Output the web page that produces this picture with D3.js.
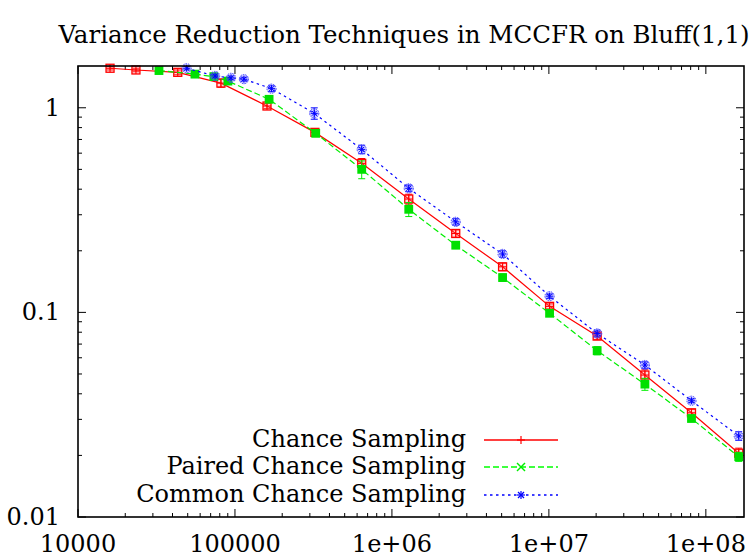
<!DOCTYPE html>
<html>
<head>
<meta charset="utf-8">
<script src="https://cdn.jsdelivr.net/npm/d3@7"></script>
<style>
  html, body { margin: 0; padding: 0; background: #fff; }
  svg { display: block; }
</style>
</head>
<body>
<svg id="chart" width="752" height="557"></svg>
<script>
// ---------------- data ----------------
const title = "Variance Reduction Techniques in MCCFR on Bluff(1,1)";
const seriesNames = ["Chance Sampling", "Paired Chance Sampling", "Common Chance Sampling"];

const chanceX   = [16000, 23400, 43200, 81400, 160000, 323000, 642000, 1280000, 2550000, 5070000, 10100000, 20300000, 40900000, 81000000, 162000000];
const chanceY   = [1.56, 1.53, 1.49, 1.32, 1.02, 0.758, 0.535, 0.358, 0.243, 0.167, 0.107, 0.0766, 0.0494, 0.0323, 0.0205];
const chanceErr = [0.03, 0.03, 0.04, 0.06, 0.03, 0.025, 0.03, 0.02, 0.01, 0.007, 0.003, 0.003, 0.003, 0.0013, 0.0012];

const pairedX   = [32800, 55600, 73400, 90200, 165000, 327000, 642000, 1280000, 2550000, 5070000, 10100000, 20300000, 40900000, 81000000, 162000000];
const pairedY   = [1.52, 1.46, 1.42, 1.35, 1.10, 0.750, 0.500, 0.319, 0.213, 0.148, 0.099, 0.065, 0.0446, 0.0303, 0.0197];
const pairedErr = [0.02, 0.02, 0.02, 0.03, 0.03, 0.02, 0.05, 0.025, 0.008, 0.006, 0.003, 0.003, 0.003, 0.001, 0.001];

const commonX   = [49200, 74700, 94400, 114000, 171000, 320000, 642000, 1280000, 2550000, 5070000, 10100000, 20300000, 40900000, 81000000, 162000000];
const commonY   = [1.56, 1.43, 1.40, 1.38, 1.24, 0.939, 0.626, 0.404, 0.277, 0.193, 0.120, 0.0789, 0.0553, 0.037, 0.0249];
const commonErr = [0.03, 0.03, 0.03, 0.03, 0.04, 0.06, 0.03, 0.015, 0.01, 0.007, 0.003, 0.003, 0.002, 0.0008, 0.0012];

const xTickValues = [1e4, 1e5, 1e6, 1e7, 1e8];
const xTickLabels = ["10000", "100000", "1e+06", "1e+07", "1e+08"];
const yTickValues = [0.01, 0.1, 1];
const yTickLabels = ["0.01", "0.1", "1"];

// ---------------- layout ----------------
const W = 752, H = 557;
const L = 78, R = 744, T = 66, B = 517;
const FS = 24;
const FONT = "DejaVu Serif";

const x = d3.scaleLog().domain([1e4, 1.75e8]).range([L, R]);
const y = d3.scaleLog().domain([0.01, 1.6]).range([B, T]);

const svg = d3.select("#chart");
svg.append("rect").attr("width", W).attr("height", H).attr("fill", "#fff");

function txt(g, s, xx, yy, anchor, size) {
  return g.append("text").attr("x", xx).attr("y", yy).attr("text-anchor", anchor)
    .attr("font-size", size || FS).attr("font-family", FONT).attr("fill", "#000").text(s);
}

// title
txt(svg, title, 404, 43, "middle", 24.5);

// ---------------- ticks ----------------
const gAx = svg.append("g").attr("stroke", "#000").attr("stroke-width", 1);
const minorX = [], minorY = [];
for (let e = 4; e <= 8; e++) for (let m = 2; m <= 9; m++) { const v = m * Math.pow(10, e); if (v < 1.75e8) minorX.push(v); }
for (let e = -2; e <= 0; e++) for (let m = 2; m <= 9; m++) { const v = m * Math.pow(10, e); if (v < 1.6) minorY.push(v); }

function xt(vals, len) {
  vals.forEach(v => {
    const px = x(v);
    gAx.append("line").attr("x1", px).attr("x2", px).attr("y1", B).attr("y2", B - len);
    gAx.append("line").attr("x1", px).attr("x2", px).attr("y1", T).attr("y2", T + len);
  });
}
function yt(vals, len) {
  vals.forEach(v => {
    const py = y(v);
    gAx.append("line").attr("x1", L).attr("x2", L + len).attr("y1", py).attr("y2", py);
    gAx.append("line").attr("x1", R).attr("x2", R - len).attr("y1", py).attr("y2", py);
  });
}
xt(xTickValues, 8); xt(minorX, 4);
yt(yTickValues, 8); yt(minorY, 4);

xTickValues.forEach((v, i) => txt(svg, xTickLabels[i], x(v), 552, "middle"));
yTickValues.forEach((v, i) => txt(svg, yTickLabels[i], 60, y(v), "end").attr("dy", "0.33em"));

// ---------------- series ----------------
const plot = svg.append("g");
const series = [
  { name: seriesNames[0], xs: chanceX, ys: chanceY, es: chanceErr, color: "#ff0000", dash: null, kind: "red" },
  { name: seriesNames[1], xs: pairedX, ys: pairedY, es: pairedErr, color: "#00ee00", dash: "6,3", kind: "green" },
  { name: seriesNames[2], xs: commonX, ys: commonY, es: commonErr, color: "#0000ff", dash: "2.5,3.5", kind: "blue" }
];

const line = d3.line().x(d => x(d[0])).y(d => y(d[1]));

function drawMarker(g, kind, cx, cy, color) {
  if (kind === "red") {
    const s = 4;
    g.append("rect").attr("x", cx - s).attr("y", cy - s).attr("width", 2 * s).attr("height", 2 * s)
      .attr("fill", "rgba(255,120,120,0.25)").attr("stroke", color).attr("stroke-width", 1.3);
    g.append("line").attr("x1", cx - s).attr("x2", cx + s).attr("y1", cy).attr("y2", cy).attr("stroke", color).attr("stroke-width", 1.1);
    g.append("line").attr("x1", cx).attr("x2", cx).attr("y1", cy - s).attr("y2", cy + s).attr("stroke", color).attr("stroke-width", 1.1);
  } else if (kind === "green") {
    const s = 4.4;
    g.append("rect").attr("x", cx - s).attr("y", cy - s).attr("width", 2 * s).attr("height", 2 * s)
      .attr("fill", "#00e000");
  } else {
    g.append("circle").attr("cx", cx).attr("cy", cy).attr("r", 4.6)
      .attr("fill", "rgba(120,120,255,0.35)").attr("stroke", "#4040ff").attr("stroke-width", 1).attr("stroke-dasharray", "1.5,1");
    const s = 3.5;
    [[-s, 0, s, 0], [0, -s, 0, s], [-s * 0.7, -s * 0.7, s * 0.7, s * 0.7], [-s * 0.7, s * 0.7, s * 0.7, -s * 0.7]].forEach(p => {
      g.append("line").attr("x1", cx + p[0]).attr("y1", cy + p[1]).attr("x2", cx + p[2]).attr("y2", cy + p[3])
        .attr("stroke", color).attr("stroke-width", 1);
    });
  }
}

function legendMarker(g, kind, cx, cy, color) {
  const s = 4;
  if (kind === "red") {
    g.append("line").attr("x1", cx - s).attr("x2", cx + s).attr("y1", cy).attr("y2", cy).attr("stroke", color).attr("stroke-width", 1.2);
    g.append("line").attr("x1", cx).attr("x2", cx).attr("y1", cy - s).attr("y2", cy + s).attr("stroke", color).attr("stroke-width", 1.2);
  } else if (kind === "green") {
    g.append("line").attr("x1", cx - s).attr("x2", cx + s).attr("y1", cy - s).attr("y2", cy + s).attr("stroke", color).attr("stroke-width", 1.4);
    g.append("line").attr("x1", cx - s).attr("x2", cx + s).attr("y1", cy + s).attr("y2", cy - s).attr("stroke", color).attr("stroke-width", 1.4);
  } else {
    [[-s, 0, s, 0], [0, -s, 0, s], [-s * 0.75, -s * 0.75, s * 0.75, s * 0.75], [-s * 0.75, s * 0.75, s * 0.75, -s * 0.75]].forEach(p => {
      g.append("line").attr("x1", cx + p[0]).attr("y1", cy + p[1]).attr("x2", cx + p[2]).attr("y2", cy + p[3])
        .attr("stroke", color).attr("stroke-width", 1.2);
    });
  }
}

series.forEach(s => {
  const g = plot.append("g");
  const pts = s.xs.map((v, i) => [v, s.ys[i]]);
  g.append("path").attr("d", line(pts)).attr("fill", "none").attr("stroke", s.color)
    .attr("stroke-width", 1.2).attr("stroke-dasharray", s.dash);
  pts.forEach((p, i) => {
    const px = x(p[0]);
    const y1 = y(p[1] + s.es[i]), y0 = y(p[1] - s.es[i]);
    g.append("line").attr("x1", px).attr("x2", px).attr("y1", y1).attr("y2", y0).attr("stroke", s.color).attr("stroke-width", 1);
    [y1, y0].forEach(yy => g.append("line").attr("x1", px - 3.5).attr("x2", px + 3.5).attr("y1", yy).attr("y2", yy)
      .attr("stroke", s.color).attr("stroke-width", 1));
  });
  pts.forEach(p => drawMarker(g, s.kind, x(p[0]), y(p[1]), s.color));
});

// ---------------- legend ----------------
const lg = svg.append("g");
const legY = [440, 467, 495];
series.forEach((s, i) => {
  txt(lg, s.name, 466, legY[i] + 7, "end");
  lg.append("line").attr("x1", 484).attr("x2", 558).attr("y1", legY[i]).attr("y2", legY[i])
    .attr("stroke", s.color === "#00ee00" ? "#00ff00" : s.color).attr("stroke-width", 1.3).attr("stroke-dasharray", s.dash);
  legendMarker(lg, s.kind, 521, legY[i], s.color);
});

// frame
svg.append("rect").attr("x", L).attr("y", T).attr("width", R - L).attr("height", B - T)
  .attr("fill", "none").attr("stroke", "#000").attr("stroke-width", 1.6);
</script>
</body>
</html>
